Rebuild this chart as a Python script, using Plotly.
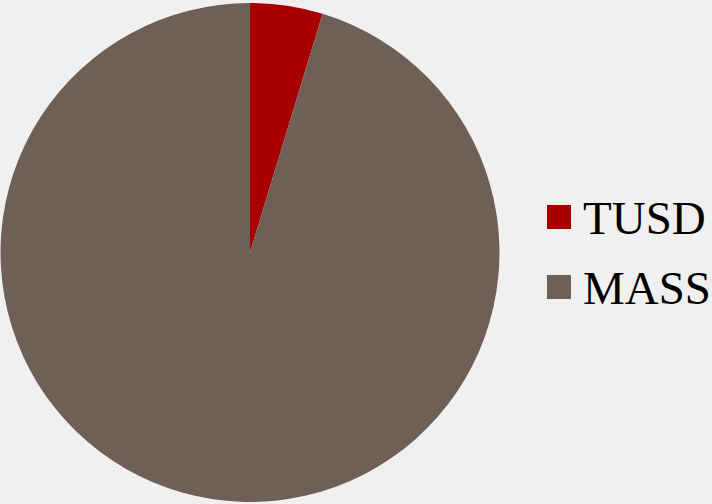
import plotly.graph_objects as go

labels = ["TUSD", "MASS"]
values = [4.7, 95.3]
colors = ["#A80000", "#705F56"]

fig = go.Figure()
fig.add_trace(go.Pie(
    labels=labels, values=values, sort=False, direction="clockwise", rotation=0,
    marker=dict(colors=colors, line=dict(width=0)),
    textinfo="none", hoverinfo="label+percent", showlegend=False,
    domain=dict(x=[0, 500/712], y=[0.004, 0.994]),
))

W, H = 712, 504
shapes = []
annotations = []
ys = [217, 287]
for lab, col, yc in zip(labels, colors, ys):
    shapes.append(dict(type="rect", xref="paper", yref="paper",
                       x0=547/W, x1=571/W, y0=1-(yc+12)/H, y1=1-(yc-12)/H,
                       fillcolor=col, line=dict(width=0)))
    annotations.append(dict(text=lab, xref="paper", yref="paper", x=581/W, y=1-(yc+1)/H,
                            xanchor="left", yanchor="middle", showarrow=False,
                            font=dict(family="'Liberation Serif', 'Times New Roman', Times, serif",
                                      size=47, color="#000000")))

fig.update_layout(width=W, height=H, margin=dict(l=0, r=0, t=0, b=0),
                  paper_bgcolor="#F0F0F0", plot_bgcolor="#F0F0F0",
                  shapes=shapes, annotations=annotations)
fig.write_html("out.html")
